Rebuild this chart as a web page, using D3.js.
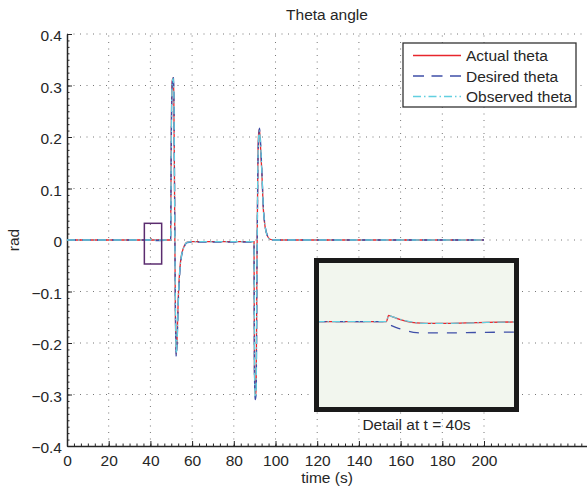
<!DOCTYPE html>
<html>
<head>
<meta charset="utf-8">
<script src="https://cdn.jsdelivr.net/npm/d3@7"></script>
<style>
  body { margin: 0; background: #fff; }
  svg { display: block; font-family: "Liberation Sans", Arial, sans-serif; }
  .axis path, .axis line { stroke: #262626; }
  .axis text { font-size: 15.5px; fill: #262626; }
</style>
</head>
<body>
<div id="chart"></div>
<script>
'use strict';

// main series (time in s, theta in rad)
const timeS = [0, 39.9, 40.2, 40.6, 49.7, 50.0, 50.5, 50.9, 51.2, 51.6, 52.0, 52.4, 52.8, 53.4,
  54.5, 55.8, 57.7, 60, 75, 89.7, 89.9, 90.3, 90.7, 91.1, 91.6, 92.0, 92.3, 92.7, 93.4,
  94.2, 95.0, 96.1, 97.4, 99, 130, 170, 200];
const actualTheta = [0, 0, 0.003, 0, 0, 0.2, 0.31, 0.315, 0.29, 0.08, -0.15, -0.222, -0.19, -0.11,
  -0.04, -0.016, -0.004, -0.003, -0.003, -0.003, -0.25, -0.303, -0.29, -0.05, 0.17, 0.21, 0.215, 0.19, 0.136,
  0.058, 0.026, 0.008, 0.0015, 0, 0, 0, 0];
const desiredTheta = [0, 0, 0.002, -0.001, 0, 0.18, 0.305, 0.318, 0.3, 0.1, -0.13, -0.226, -0.2, -0.12,
  -0.045, -0.018, -0.005, -0.004, -0.004, -0.004, -0.26, -0.31, -0.3, -0.07, 0.15, 0.205, 0.217, 0.2, 0.14,
  0.062, 0.028, 0.009, 0.002, 0, 0, 0, 0];
const observedTheta = [0, 0, 0.002, 0, 0, 0.19, 0.308, 0.314, 0.295, 0.09, -0.14, -0.22, -0.195, -0.115,
  -0.042, -0.017, -0.004, -0.003, -0.003, -0.003, -0.255, -0.305, -0.295, -0.06, 0.16, 0.205, 0.212, 0.195, 0.138,
  0.06, 0.027, 0.008, 0.0015, 0, 0, 0, 0];

// detail around t = 40 s
const insetTime = [39.3, 39.7, 40.0, 40.02, 40.05, 40.1, 40.2, 40.3, 40.4, 40.6, 40.8, 41.0, 41.3];
const insetActual = [0, 0, 0, 0.00021, 0.00018, 0.00011, 0.00001, -0.000045, -0.00006, -0.00006, -0.000045, -0.00003, -0.00001];
const insetDesired = [0, 0, 0, -0.00008, -0.00014, -0.00021, -0.00031, -0.00038, -0.00039, -0.00039, -0.00038, -0.00037, -0.00036];
const insetObserved = [0, 0, 0, 0.0002, 0.00018, 0.00012, 0.00002, -0.00004, -0.00006, -0.00006, -0.00005, -0.00003, -0.00001];

const xTicks = [0, 20, 40, 60, 80, 100, 120, 140, 160, 180, 200];
const yTicks = [-0.4, -0.3, -0.2, -0.1, 0, 0.1, 0.2, 0.3, 0.4];
const seriesNames = ['Actual theta', 'Desired theta', 'Observed theta'];
const zoomBox = { t0: 37.1, t1: 45.4, v0: -0.0466, v1: 0.0324 };

const width = 587, height = 489;
const margin = { top: 34, left: 67, bottom: 43, right: 0 };

const styles = [
  { color: '#e8262c', dash: null },
  { color: '#3f4fa8', dash: '9,6' },
  { color: '#62cfe0', dash: '8,3,1.5,3' }
];

const svg = d3.select('#chart').append('svg')
  .attr('width', width)
  .attr('height', height);

const xScale = d3.scaleLinear()
  .domain([0, 249.4])
  .range([margin.left, width - margin.right]);

const yScale = d3.scaleLinear()
  .domain([-0.4, 0.4])
  .range([height - margin.bottom, margin.top]);

// dotted grid
const grid = svg.append('g').attr('class', 'grid');
grid.selectAll('line.gx')
  .data(xTicks.filter(d => d > 0))
  .enter().append('line')
  .attr('x1', d => xScale(d)).attr('x2', d => xScale(d))
  .attr('y1', yScale(-0.4)).attr('y2', yScale(0.4))
  .attr('stroke', '#777').attr('stroke-width', 1)
  .attr('stroke-dasharray', '1,5.5');
grid.selectAll('line.gy')
  .data(yTicks.filter(d => d > -0.4))
  .enter().append('line')
  .attr('x1', xScale(0)).attr('x2', width)
  .attr('y1', d => yScale(d)).attr('y2', d => yScale(d))
  .attr('stroke', '#777').attr('stroke-width', 1)
  .attr('stroke-dasharray', '1,5.5');

// minor ticks
svg.append('g')
  .attr('class', 'axis')
  .attr('transform', `translate(0, ${yScale(-0.4)})`)
  .call(d3.axisBottom(xScale).tickValues(d3.range(0, 250, 10 / 3)).tickSize(-2.5).tickFormat(''))
  .call(g => g.select('.domain').remove());
svg.append('g')
  .attr('class', 'axis')
  .attr('transform', `translate(${xScale(0)}, 0)`)
  .call(d3.axisLeft(yScale).tickValues(d3.range(-32, 33).map(d => d * 0.0125)).tickSize(-2.5).tickFormat(''))
  .call(g => g.select('.domain').remove());

// main axes
const xAxis = d3.axisBottom(xScale)
  .tickValues(xTicks)
  .tickSize(-5)
  .tickSizeOuter(0)
  .tickPadding(9);
const yAxis = d3.axisLeft(yScale)
  .tickValues(yTicks)
  .tickSize(-5)
  .tickSizeOuter(0)
  .tickPadding(5)
  .tickFormat(d => d === 0 ? '0' : d3.format('.1f')(d));

svg.append('g')
  .attr('class', 'axis x-axis')
  .attr('transform', `translate(0, ${yScale(-0.4)})`)
  .call(xAxis)
  .call(g => g.select('.domain').attr('stroke-width', 1.5));

svg.append('g')
  .attr('class', 'axis y-axis')
  .attr('transform', `translate(${xScale(0)}, 0)`)
  .call(yAxis)
  .call(g => g.select('.domain').attr('stroke-width', 1.5))
  .call(g => g.selectAll('text').attr('dy', '0.42em'));

// lines
const series = [actualTheta, desiredTheta, observedTheta];
const line = d3.line()
  .curve(d3.curveMonotoneX)
  .x((d, i) => xScale(timeS[i]))
  .y(d => yScale(d));

series.forEach((s, k) => {
  svg.append('path')
    .datum(s)
    .attr('fill', 'none')
    .attr('stroke', styles[k].color)
    .attr('stroke-width', 1.3)
    .attr('stroke-dasharray', styles[k].dash)
    .attr('d', line);
});

// zoom marker box
svg.append('rect')
  .attr('x', xScale(zoomBox.t0))
  .attr('y', yScale(zoomBox.v1))
  .attr('width', xScale(zoomBox.t1) - xScale(zoomBox.t0))
  .attr('height', yScale(zoomBox.v0) - yScale(zoomBox.v1))
  .attr('fill', 'none')
  .attr('stroke', '#5b2c6f')
  .attr('stroke-width', 1.5);

// title and labels
svg.append('text')
  .text('Theta angle')
  .attr('x', 327).attr('y', 20)
  .attr('text-anchor', 'middle')
  .style('font-size', '15.5px').attr('fill', '#262626');

svg.append('text')
  .text('time (s)')
  .attr('x', 327).attr('y', 483)
  .attr('text-anchor', 'middle')
  .style('font-size', '15.5px').attr('fill', '#262626');

svg.append('text')
  .text('rad')
  .attr('transform', `translate(19, ${yScale(0)}) rotate(-90)`)
  .attr('text-anchor', 'middle')
  .style('font-size', '15.5px').attr('fill', '#262626');

// legend
const legend = svg.append('g').attr('transform', 'translate(403, 43)');
legend.append('rect')
  .attr('width', 173).attr('height', 64)
  .attr('fill', '#fff')
  .attr('stroke', '#333').attr('stroke-width', 1.3);
seriesNames.forEach((name, k) => {
  const yy = 12.5 + k * 20.5;
  legend.append('line')
    .attr('x1', 10).attr('x2', 58)
    .attr('y1', yy).attr('y2', yy)
    .attr('stroke', styles[k].color)
    .attr('stroke-width', 1.3)
    .attr('stroke-dasharray', k === 1 ? '11,7.5' : styles[k].dash);
  legend.append('text')
    .text(name)
    .attr('x', 63).attr('y', yy + 5.5)
    .style('font-size', '15.5px').attr('fill', '#262626');
});

// inset detail
const inset = { x: 316.5, y: 260.5, w: 200, h: 149 };
const ix = d3.scaleLinear().domain([39.3, 41.3]).range([inset.x, inset.x + inset.w]);
const iy = d3.scaleLinear().domain([-0.00296, 0.00204]).range([408, 262]);

svg.append('defs').append('clipPath').attr('id', 'inset-clip')
  .append('rect')
  .attr('x', inset.x).attr('y', inset.y)
  .attr('width', inset.w).attr('height', inset.h);

svg.append('rect')
  .attr('x', inset.x).attr('y', inset.y)
  .attr('width', inset.w).attr('height', inset.h)
  .attr('fill', '#f2f6ee');

const insetLine = d3.line()
  .curve(d3.curveMonotoneX)
  .x((d, i) => ix(insetTime[i]))
  .y(d => iy(d));

const insetGroup = svg.append('g').attr('clip-path', 'url(#inset-clip)');
[insetActual, insetDesired, insetObserved].forEach((s, k) => {
  insetGroup.append('path')
    .datum(s)
    .attr('fill', 'none')
    .attr('stroke', styles[k].color)
    .attr('stroke-width', 1.3)
    .attr('stroke-dasharray', styles[k].dash === null ? null : (k === 1 ? '10,9' : styles[k].dash))
    .attr('d', insetLine);
});

svg.append('rect')
  .attr('x', inset.x).attr('y', inset.y)
  .attr('width', inset.w).attr('height', inset.h)
  .attr('fill', 'none')
  .attr('stroke', '#1a1a1a')
  .attr('stroke-width', 5);

svg.append('text')
  .text('Detail at t = 40s')
  .attr('x', inset.x + inset.w / 2).attr('y', 430)
  .attr('text-anchor', 'middle')
  .style('font-size', '15.5px').attr('fill', '#262626');
</script>
</body>
</html>
